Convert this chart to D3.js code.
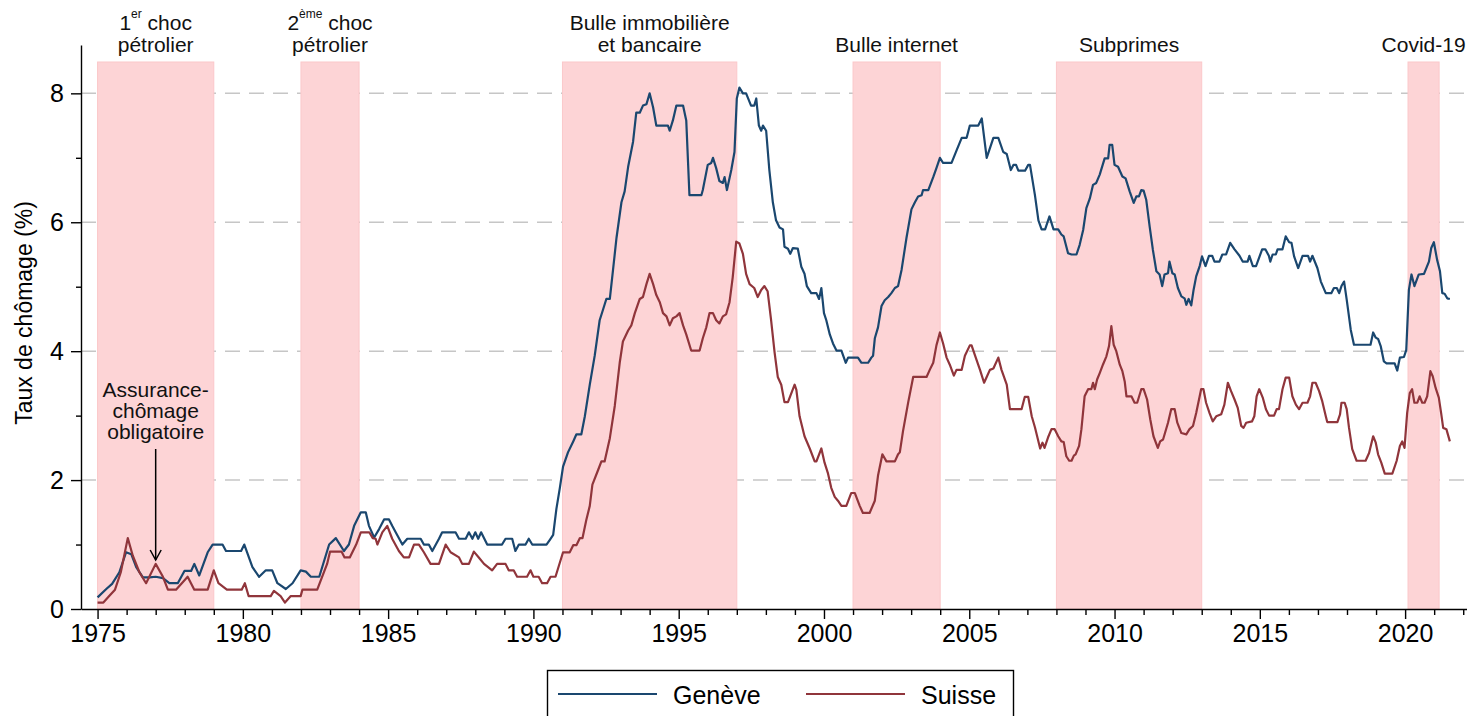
<!DOCTYPE html>
<html>
<head>
<meta charset="utf-8">
<script src="https://cdn.jsdelivr.net/npm/d3@7"></script>
<style>
  body { margin: 0; background: #fff; }
  svg { display: block; font-family: "Liberation Sans", Arial, sans-serif; }
</style>
</head>
<body>
<div id="chart"></div>
<script>
// taux de chômage (%), [année, valeur]
var geneve = [
  [1975.0,0.18],[1975.3,0.31],[1975.5,0.39],[1975.75,0.57],[1975.98,0.88],[1976.16,0.85],[1976.33,0.65],
  [1976.56,0.49],[1976.79,0.49],[1977.0,0.5],[1977.25,0.48],[1977.47,0.4],[1977.76,0.4],[1977.99,0.59],
  [1978.22,0.59],[1978.33,0.7],[1978.5,0.52],[1978.79,0.88],[1978.96,1.0],[1979.3,1.0],[1979.42,0.9],
  [1979.94,0.9],[1980.05,1.0],[1980.33,0.65],[1980.56,0.5],[1980.79,0.6],[1981.01,0.6],[1981.19,0.4],
  [1981.48,0.31],[1981.71,0.4],[1981.99,0.6],[1982.17,0.58],[1982.34,0.5],[1982.63,0.5],[1982.97,1.0],
  [1983.2,1.1],[1983.48,0.9],[1983.65,1.0],[1983.83,1.29],[1984.06,1.5],[1984.23,1.5],[1984.34,1.29],
  [1984.52,1.11],[1984.69,1.24],[1984.86,1.39],[1985.03,1.39],[1985.14,1.29],[1985.26,1.19],[1985.49,1.0],
  [1985.66,1.09],[1986.12,1.09],[1986.23,1.0],[1986.4,1.0],[1986.52,0.9],[1986.75,1.09],[1986.86,1.19],
  [1987.32,1.19],[1987.44,1.09],[1987.67,1.09],[1987.78,1.19],[1987.9,1.09],[1988.0,1.19],[1988.1,1.09],
  [1988.2,1.19],[1988.41,1.0],[1988.92,1.0],[1989.04,1.09],[1989.27,1.09],[1989.38,0.9],[1989.5,1.0],
  [1989.73,1.0],[1989.84,1.09],[1989.96,1.0],[1990.45,1.0],[1990.56,1.07],[1990.68,1.15],[1990.79,1.55],
  [1990.91,1.88],[1991.02,2.21],[1991.19,2.43],[1991.37,2.6],[1991.48,2.71],[1991.65,2.71],[1991.77,2.99],
  [1991.94,3.48],[1992.11,3.93],[1992.28,4.48],[1992.4,4.65],[1992.51,4.81],[1992.63,4.81],[1992.74,5.26],
  [1992.86,5.76],[1993.03,6.31],[1993.14,6.48],[1993.26,6.86],[1993.43,7.25],[1993.54,7.7],[1993.66,7.7],
  [1993.77,7.81],[1993.89,7.83],[1994.0,8.0],[1994.12,7.78],[1994.23,7.5],[1994.63,7.5],[1994.69,7.42],
  [1994.8,7.58],[1994.92,7.81],[1995.15,7.81],[1995.26,7.58],[1995.37,6.42],[1995.78,6.42],[1995.83,6.5],
  [1996.0,6.89],[1996.12,6.92],[1996.18,7.0],[1996.29,6.84],[1996.4,6.64],[1996.52,6.61],[1996.58,6.7],
  [1996.66,6.5],[1996.81,6.81],[1996.92,7.09],[1997.0,7.92],[1997.09,8.09],[1997.21,8.0],[1997.32,8.0],
  [1997.49,7.81],[1997.6,7.81],[1997.67,7.92],[1997.76,7.5],[1997.84,7.42],[1997.9,7.5],[1998.01,7.42],
  [1998.12,6.81],[1998.24,6.31],[1998.35,6.03],[1998.47,5.92],[1998.59,5.89],[1998.64,5.62],[1998.76,5.59],
  [1998.84,5.51],[1998.93,5.6],[1999.1,5.59],[1999.22,5.31],[1999.33,5.2],[1999.41,5.01],[1999.56,4.9],
  [1999.74,4.9],[1999.83,4.81],[1999.91,4.98],[2000.0,4.59],[2000.08,4.48],[2000.2,4.26],[2000.31,4.12],
  [2000.43,4.01],[2000.6,4.01],[2000.75,3.82],[2000.83,3.9],[2001.17,3.9],[2001.29,3.82],[2001.52,3.82],
  [2001.63,3.9],[2001.69,3.93],[2001.75,4.2],[2001.86,4.37],[2001.98,4.7],[2002.09,4.79],[2002.21,4.84],
  [2002.32,4.9],[2002.44,4.98],[2002.55,5.01],[2002.67,5.26],[2002.84,5.76],[2003.01,6.2],[2003.13,6.31],
  [2003.24,6.4],[2003.36,6.42],[2003.41,6.5],[2003.59,6.5],[2003.76,6.7],[2003.87,6.84],[2003.99,7.0],
  [2004.1,6.92],[2004.39,6.92],[2004.56,7.11],[2004.74,7.31],[2004.91,7.31],[2005.02,7.5],[2005.31,7.5],
  [2005.43,7.61],[2005.6,7.0],[2005.83,7.31],[2006.0,7.31],[2006.17,7.09],[2006.29,7.06],[2006.43,6.81],
  [2006.52,6.89],[2006.61,6.89],[2006.69,6.8],[2006.92,6.8],[2007.03,6.89],[2007.09,6.89],[2007.26,6.42],
  [2007.38,6.03],[2007.49,5.89],[2007.61,5.89],[2007.76,6.09],[2007.9,5.89],[2008.06,5.89],[2008.17,5.81],
  [2008.25,5.78],[2008.4,5.52],[2008.52,5.5],[2008.69,5.5],[2008.8,5.65],[2008.92,5.88],[2009.03,6.22],
  [2009.15,6.37],[2009.26,6.58],[2009.37,6.61],[2009.49,6.74],[2009.66,6.99],[2009.78,6.99],[2009.83,7.2],
  [2009.92,7.2],[2010.0,6.89],[2010.12,6.86],[2010.27,6.71],[2010.38,6.68],[2010.52,6.48],[2010.66,6.3],
  [2010.75,6.4],[2010.84,6.4],[2010.92,6.5],[2011.0,6.49],[2011.09,6.35],[2011.21,5.93],[2011.32,5.57],
  [2011.44,5.24],[2011.55,5.19],[2011.64,5.01],[2011.72,5.19],[2011.84,5.21],[2011.89,5.39],[2011.99,5.21],
  [2012.07,5.19],[2012.18,4.98],[2012.3,4.85],[2012.41,4.82],[2012.47,4.72],[2012.55,4.81],[2012.64,4.71],
  [2012.72,4.95],[2012.81,5.16],[2012.93,5.32],[2013.01,5.47],[2013.13,5.32],[2013.25,5.48],[2013.36,5.48],
  [2013.44,5.39],[2013.61,5.39],[2013.71,5.5],[2013.84,5.5],[2013.98,5.68],[2014.13,5.58],[2014.3,5.48],
  [2014.41,5.39],[2014.58,5.39],[2014.64,5.48],[2014.76,5.32],[2014.87,5.32],[2015.08,5.58],[2015.19,5.58],
  [2015.31,5.48],[2015.36,5.39],[2015.44,5.5],[2015.55,5.5],[2015.61,5.58],[2015.78,5.58],[2015.89,5.78],
  [2016.01,5.69],[2016.09,5.68],[2016.18,5.47],[2016.32,5.29],[2016.47,5.48],[2016.66,5.48],[2016.73,5.39],
  [2016.81,5.48],[2016.98,5.29],[2017.1,5.08],[2017.27,4.9],[2017.46,4.9],[2017.55,4.98],[2017.65,4.98],
  [2017.73,4.9],[2017.81,5.01],[2017.9,5.08],[2017.99,4.8],[2018.13,4.33],[2018.24,4.1],[2018.81,4.1],
  [2018.9,4.29],[2018.99,4.21],[2019.07,4.19],[2019.16,4.08],[2019.27,3.84],[2019.36,3.81],[2019.64,3.81],
  [2019.73,3.7],[2019.82,3.9],[2019.96,3.91],[2020.04,4.02],[2020.13,4.95],[2020.22,5.19],[2020.32,5.01],
  [2020.47,5.19],[2020.65,5.2],[2020.82,5.39],[2020.9,5.6],[2020.99,5.69],[2021.1,5.42],[2021.2,5.24],
  [2021.28,4.9],[2021.36,4.89],[2021.45,4.82],[2021.54,4.81]
];

var suisse = [
  [1975.0,0.1],[1975.2,0.1],[1975.4,0.2],[1975.6,0.3],[1975.8,0.57],[1976.04,1.1],[1976.21,0.83],
  [1976.44,0.57],[1976.67,0.4],[1977.0,0.7],[1977.25,0.5],[1977.42,0.3],[1977.7,0.3],[1978.1,0.5],
  [1978.33,0.3],[1978.79,0.3],[1979.0,0.6],[1979.16,0.4],[1979.45,0.3],[1979.96,0.3],[1980.07,0.4],
  [1980.2,0.2],[1980.96,0.2],[1981.07,0.28],[1981.3,0.2],[1981.45,0.1],[1981.65,0.2],[1981.99,0.2],
  [1982.05,0.3],[1982.56,0.3],[1982.9,0.7],[1983.0,0.89],[1983.4,0.89],[1983.5,0.8],[1983.68,0.8],
  [1983.9,1.0],[1984.06,1.19],[1984.35,1.19],[1984.47,1.1],[1984.57,1.09],[1984.63,1.0],[1984.8,1.19],
  [1984.97,1.29],[1985.14,1.09],[1985.37,0.9],[1985.54,0.8],[1985.72,0.8],[1985.89,1.0],[1986.06,1.0],
  [1986.23,0.88],[1986.46,0.7],[1986.75,0.7],[1986.98,1.0],[1987.15,0.88],[1987.44,0.8],[1987.55,0.7],
  [1987.78,0.7],[1987.95,0.89],[1988.12,0.8],[1988.3,0.7],[1988.58,0.6],[1988.75,0.7],[1989.04,0.7],
  [1989.15,0.6],[1989.32,0.6],[1989.44,0.5],[1989.78,0.5],[1989.9,0.6],[1990.0,0.5],[1990.18,0.5],
  [1990.3,0.4],[1990.47,0.4],[1990.59,0.5],[1990.76,0.5],[1991.02,0.88],[1991.25,0.88],[1991.37,0.99],
  [1991.48,0.99],[1991.6,1.1],[1991.69,1.1],[1991.82,1.38],[1991.94,1.6],[1992.03,1.93],[1992.23,2.16],
  [1992.34,2.29],[1992.45,2.29],[1992.63,2.65],[1992.8,3.15],[1992.97,3.82],[1993.08,4.15],[1993.26,4.32],
  [1993.37,4.4],[1993.49,4.59],[1993.66,4.81],[1993.77,4.84],[1993.89,5.04],[1994.0,5.2],[1994.12,5.04],
  [1994.23,4.87],[1994.35,4.76],[1994.46,4.59],[1994.58,4.54],[1994.69,4.4],[1994.8,4.51],[1994.92,4.54],
  [1995.03,4.59],[1995.15,4.4],[1995.26,4.26],[1995.43,4.01],[1995.72,4.01],[1995.83,4.2],[1995.95,4.37],
  [1996.06,4.59],[1996.18,4.59],[1996.29,4.48],[1996.4,4.43],[1996.52,4.54],[1996.63,4.57],[1996.75,4.76],
  [1996.86,5.15],[1996.98,5.7],[1997.09,5.67],[1997.21,5.51],[1997.32,5.2],[1997.44,5.04],[1997.6,4.98],
  [1997.72,4.84],[1997.84,4.95],[1997.95,5.01],[1998.06,4.93],[1998.18,4.48],[1998.3,3.98],[1998.41,3.6],
  [1998.53,3.48],[1998.64,3.21],[1998.76,3.21],[1998.99,3.48],[1999.05,3.4],[1999.16,2.99],[1999.33,2.68],
  [1999.51,2.49],[1999.68,2.29],[1999.74,2.29],[1999.91,2.49],[2000.02,2.27],[2000.14,2.1],[2000.25,1.88],
  [2000.37,1.74],[2000.48,1.68],[2000.6,1.6],[2000.77,1.6],[2000.94,1.8],[2001.06,1.8],[2001.23,1.6],
  [2001.34,1.49],[2001.57,1.49],[2001.75,1.68],[2001.86,2.07],[2002.01,2.4],[2002.15,2.29],[2002.44,2.29],
  [2002.55,2.4],[2002.61,2.43],[2002.72,2.76],[2002.9,3.21],[2003.07,3.6],[2003.53,3.6],[2003.64,3.71],
  [2003.76,3.82],[2003.87,4.09],[2003.99,4.29],[2004.1,4.12],[2004.22,3.9],[2004.33,3.79],[2004.47,3.62],
  [2004.56,3.71],[2004.74,3.71],[2004.85,3.93],[2005.02,4.09],[2005.08,4.09],[2005.2,3.93],[2005.37,3.71],
  [2005.51,3.51],[2005.6,3.6],[2005.71,3.71],[2005.83,3.73],[2006.0,3.9],[2006.11,3.71],[2006.29,3.48],
  [2006.4,3.1],[2006.8,3.1],[2006.91,3.29],[2007.03,3.29],[2007.15,2.99],[2007.26,2.82],[2007.44,2.49],
  [2007.52,2.58],[2007.59,2.5],[2007.71,2.66],[2007.83,2.79],[2007.94,2.79],[2008.06,2.68],[2008.17,2.6],
  [2008.25,2.59],[2008.34,2.37],[2008.44,2.3],[2008.52,2.3],[2008.6,2.38],[2008.66,2.4],[2008.78,2.53],
  [2008.86,2.79],[2008.97,3.3],[2009.09,3.41],[2009.2,3.41],[2009.26,3.51],[2009.32,3.41],[2009.4,3.56],
  [2009.49,3.66],[2009.6,3.79],[2009.72,3.92],[2009.81,4.08],[2009.89,4.39],[2009.97,4.1],[2010.06,4.0],
  [2010.18,3.79],[2010.27,3.69],[2010.35,3.53],[2010.41,3.3],[2010.58,3.3],[2010.69,3.2],[2010.78,3.2],
  [2010.92,3.41],[2011.0,3.41],[2011.12,3.25],[2011.23,2.94],[2011.34,2.68],[2011.49,2.5],[2011.57,2.6],
  [2011.67,2.63],[2011.84,2.89],[2011.95,3.1],[2012.07,3.1],[2012.16,2.89],[2012.3,2.73],[2012.47,2.71],
  [2012.58,2.79],[2012.7,2.84],[2012.81,3.04],[2012.93,3.3],[2012.98,3.41],[2013.06,3.41],[2013.15,3.2],
  [2013.27,3.04],[2013.38,2.91],[2013.5,2.99],[2013.67,3.02],[2013.78,3.17],[2013.9,3.51],[2014.01,3.38],
  [2014.13,3.25],[2014.24,3.12],[2014.36,2.84],[2014.44,2.81],[2014.53,2.89],[2014.73,2.91],[2014.81,2.99],
  [2014.89,3.3],[2014.98,3.41],[2015.1,3.28],[2015.21,3.1],[2015.32,3.0],[2015.49,3.0],[2015.58,3.1],
  [2015.66,3.1],[2015.78,3.41],[2015.89,3.59],[2016.01,3.59],[2016.12,3.3],[2016.24,3.17],[2016.35,3.1],
  [2016.47,3.2],[2016.64,3.2],[2016.73,3.3],[2016.81,3.51],[2016.92,3.51],[2017.04,3.38],[2017.15,3.22],
  [2017.27,2.99],[2017.32,2.9],[2017.67,2.9],[2017.76,3.02],[2017.81,3.2],[2017.92,3.2],[2017.99,3.1],
  [2018.07,2.81],[2018.18,2.48],[2018.33,2.3],[2018.64,2.3],[2018.76,2.42],[2018.9,2.68],[2018.99,2.58],
  [2019.07,2.4],[2019.18,2.27],[2019.3,2.1],[2019.56,2.1],[2019.71,2.3],[2019.82,2.53],[2019.9,2.6],
  [2019.98,2.5],[2020.07,3.04],[2020.16,3.35],[2020.24,3.41],[2020.32,3.2],[2020.42,3.2],[2020.5,3.3],
  [2020.59,3.2],[2020.67,3.2],[2020.76,3.3],[2020.87,3.69],[2020.95,3.61],[2021.05,3.43],[2021.16,3.28],
  [2021.24,3.04],[2021.31,2.81],[2021.42,2.79],[2021.54,2.6]
];

// crises (zones ombrées); "^" encadre un exposant
var crisisStart = [1975, 1982, 1991, 2001, 2008, 2020.1];
var crisisEnd = [1979, 1984, 1997, 2004, 2013, 2021.17];
var crisisLabels = [
  ["1^er^ choc", "pétrolier"],
  ["2^ème^ choc", "pétrolier"],
  ["Bulle immobilière", "et bancaire"],
  ["Bulle internet"],
  ["Subprimes"],
  ["Covid-19"]
];

var xTickLabels = [1975, 1980, 1985, 1990, 1995, 2000, 2005, 2010, 2015, 2020];
var yTickLabels = [0, 2, 4, 6, 8];
var seriesNames = ["Genève", "Suisse"];
var seriesColors = ["#1a476f", "#90353b"];
var noteLines = ["Assurance-", "chômage", "obligatoire"];
var noteYear = 1977;

var width = 1467, height = 716;

var svg = d3.select("#chart").append("svg")
    .attr("width", width)
    .attr("height", height);

var x = d3.scaleLinear()
    .domain([1974.43, 2022.13])
    .range([81, 1467]);

var y = d3.scaleLinear()
    .domain([0, 8.75])
    .range([609, 45]);

// gridlines
svg.selectAll(".grid")
    .data(yTickLabels.filter(function (d) { return d > 0; }))
  .enter().append("line")
    .attr("class", "grid")
    .attr("x1", x.range()[0])
    .attr("x2", x.range()[1])
    .attr("y1", function (d) { return y(d); })
    .attr("y2", function (d) { return y(d); })
    .attr("stroke", "#c6c6c6")
    .attr("stroke-width", 1.5)
    .attr("stroke-dasharray", "15,9");

// shaded crises
var crisisTop = 62;
svg.selectAll(".crisis")
    .data(crisisStart)
  .enter().append("rect")
    .attr("class", "crisis")
    .attr("x", function (d) { return x(d); })
    .attr("y", crisisTop)
    .attr("width", function (d, i) { return x(crisisEnd[i]) - x(d); })
    .attr("height", y(0) - crisisTop)
    .attr("fill", "#fdd4d6")
    .attr("stroke", "#fbc8ca")
    .attr("stroke-width", 1);

// crisis labels
var labels = svg.selectAll(".crisis-label")
    .data(crisisLabels)
  .enter().append("text")
    .attr("class", "crisis-label")
    .attr("text-anchor", "middle")
    .attr("font-size", 21)
    .attr("fill", "#111");

labels.each(function (lines, i) {
    var t = d3.select(this);
    var cx = (x(crisisStart[i]) + x(crisisEnd[i])) / 2;
    var base = lines.length == 2 ? 30 : 51.5;
    lines.forEach(function (line, j) {
        var parts = line.split("^");
        parts.forEach(function (p, k) {
            var ts = t.append("tspan").text(p);
            if (k == 0) ts.attr("x", cx).attr("y", base + j * 21.5);
            if (k % 2 == 1) ts.attr("font-size", 12).attr("dy", -12);
            if (k > 0 && k % 2 == 0) ts.attr("dy", 12);
        });
    });
});

// series
var line = d3.line()
    .x(function (d) { return x(d[0]); })
    .y(function (d) { return y(d[1]); });

[geneve, suisse].forEach(function (s, i) {
    svg.append("path")
        .datum(s)
        .attr("fill", "none")
        .attr("stroke", seriesColors[i])
        .attr("stroke-width", 2.2)
        .attr("stroke-linejoin", "round")
        .attr("d", line);
});

// x axis
var xAxis = d3.axisBottom(x)
    .tickValues(d3.range(1975, 2023))
    .tickSizeOuter(0)
    .tickFormat(function (d) { return xTickLabels.indexOf(d) >= 0 ? d : ""; });

var gx = svg.append("g")
    .attr("transform", "translate(0," + y(0) + ")")
    .call(xAxis);
gx.select(".domain").attr("stroke", "#000").attr("stroke-width", 1.4);
gx.selectAll(".tick line")
    .attr("stroke", "#000")
    .attr("stroke-width", 1.4)
    .attr("y2", function (d) { return d % 5 == 0 ? 10 : 6; });
gx.selectAll(".tick text")
    .attr("y", 15)
    .attr("dy", "0.71em")
    .attr("font-size", 25)
    .attr("font-family", "Liberation Sans, Arial, sans-serif")
    .attr("fill", "#000");

// y axis
var yAxis = d3.axisLeft(y)
    .tickValues(d3.range(0, 9))
    .tickSizeOuter(0)
    .tickFormat(function (d) { return yTickLabels.indexOf(d) >= 0 ? d : ""; });

var gy = svg.append("g")
    .attr("transform", "translate(" + x.range()[0] + ",0)")
    .call(yAxis);
gy.select(".domain").attr("stroke", "#000").attr("stroke-width", 1.4);
gy.selectAll(".tick line")
    .attr("stroke", "#000")
    .attr("stroke-width", 1.4)
    .attr("x2", function (d) { return d % 2 == 0 ? -10 : -5; });
gy.selectAll(".tick text")
    .attr("x", -17)
    .attr("font-size", 25)
    .attr("font-family", "Liberation Sans, Arial, sans-serif")
    .attr("fill", "#000");

svg.append("text")
    .attr("transform", "translate(32,313) rotate(-90)")
    .attr("text-anchor", "middle")
    .attr("font-size", 23)
    .attr("fill", "#000")
    .text("Taux de chômage (%)");

// annotation assurance-chômage
var note = svg.append("text")
    .attr("text-anchor", "middle")
    .attr("font-size", 21)
    .attr("fill", "#111");
noteLines.forEach(function (l, i) {
    note.append("tspan")
        .attr("x", x(noteYear))
        .attr("y", 396.5 + i * 21)
        .text(l);
});

var ax = x(noteYear), ay1 = 449, ay2 = 560;
svg.append("line")
    .attr("x1", ax).attr("x2", ax)
    .attr("y1", ay1).attr("y2", ay2)
    .attr("stroke", "#000")
    .attr("stroke-width", 1.5);
svg.append("path")
    .attr("d", "M" + (ax - 5.5) + "," + (ay2 - 10) + "L" + ax + "," + ay2 + "L" + (ax + 5.5) + "," + (ay2 - 10))
    .attr("fill", "none")
    .attr("stroke", "#000")
    .attr("stroke-width", 1.5);

// legend
var legend = svg.append("g");
legend.append("rect")
    .attr("x", 547.5)
    .attr("y", 670.5)
    .attr("width", 466)
    .attr("height", 60)
    .attr("fill", "#fff")
    .attr("stroke", "#000")
    .attr("stroke-width", 1.4);

var legendX = [558, 806];
seriesNames.forEach(function (name, i) {
    legend.append("line")
        .attr("x1", legendX[i])
        .attr("x2", legendX[i] + 99)
        .attr("y1", 694)
        .attr("y2", 694)
        .attr("stroke", seriesColors[i])
        .attr("stroke-width", 2.2);
    legend.append("text")
        .attr("x", legendX[i] + 115)
        .attr("y", 703.5)
        .attr("font-size", 25)
        .attr("fill", "#000")
        .text(name);
});
</script>
</body>
</html>
